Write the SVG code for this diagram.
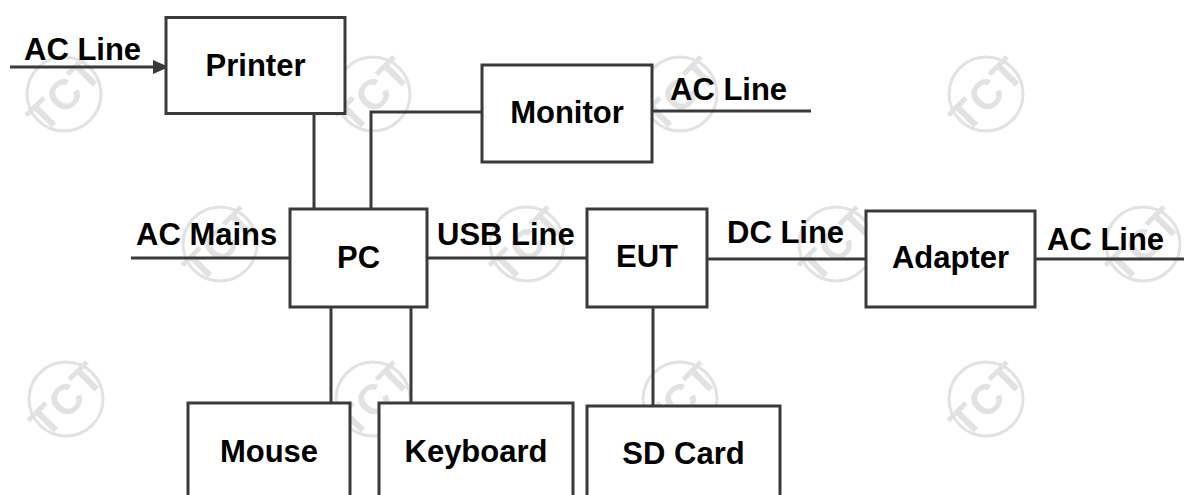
<svg xmlns="http://www.w3.org/2000/svg" width="1184" height="495" viewBox="0 0 1184 495">
  <defs>
    <style>
      .box { fill: #ffffff; stroke: #3a3a3a; stroke-width: 3; }
      .wire { fill: none; stroke: #3a3a3a; stroke-width: 3; }
      .lbl { font-family: "Liberation Sans", Arial, sans-serif; font-weight: bold; font-size: 31px; fill: #000000; }
      .mid { text-anchor: middle; }
    </style>
    <marker id="arrow" viewBox="0 0 16 14" refX="15" refY="7" markerWidth="16" markerHeight="14" markerUnits="userSpaceOnUse" orient="auto">
      <path d="M0,0 L16,7 L0,14 Z" fill="#3a3a3a"/>
    </marker>
    <g id="wmark">
      <circle cx="0" cy="0" r="37" fill="none" stroke="#e2e2e2" stroke-width="3"/>
      <text x="0" y="15" transform="rotate(-45)" style="font-family: 'Liberation Sans', Arial, sans-serif; font-weight: bold; font-size: 42px; letter-spacing: 1px;" fill="#e2e2e2" text-anchor="middle">TCT</text>
    </g>
  </defs>
  <rect width="1184" height="495" fill="#ffffff"/>

  <g id="watermarks">
    <use href="#wmark" x="64" y="94"/>
    <use href="#wmark" x="373" y="94"/>
    <use href="#wmark" x="680" y="94"/>
    <use href="#wmark" x="986" y="94"/>
    <use href="#wmark" x="220" y="244"/>
    <use href="#wmark" x="527" y="244"/>
    <use href="#wmark" x="836" y="244"/>
    <use href="#wmark" x="1143" y="244"/>
    <use href="#wmark" x="66" y="399"/>
    <use href="#wmark" x="373" y="399"/>
    <use href="#wmark" x="680" y="399"/>
    <use href="#wmark" x="986" y="399"/>
  </g>

  <g id="connectors">
    <line class="wire" x1="10" y1="67" x2="168" y2="67" marker-end="url(#arrow)"/>
    <line class="wire" x1="314" y1="113" x2="314" y2="209"/>
    <polyline class="wire" points="371,209 371,112 482,112"/>
    <line class="wire" x1="652" y1="111" x2="811" y2="111"/>
    <line class="wire" x1="131" y1="258" x2="290" y2="258"/>
    <line class="wire" x1="427" y1="258" x2="587" y2="258"/>
    <line class="wire" x1="707" y1="259" x2="866" y2="259"/>
    <line class="wire" x1="1035" y1="259" x2="1184" y2="259"/>
    <line class="wire" x1="331" y1="307" x2="331" y2="403"/>
    <line class="wire" x1="411" y1="307" x2="411" y2="403"/>
    <line class="wire" x1="653" y1="307" x2="653" y2="406"/>
    <text class="lbl" x="24" y="60">AC Line</text>
    <text class="lbl" x="670" y="100">AC Line</text>
    <text class="lbl" x="136" y="245">AC Mains</text>
    <text class="lbl" x="437" y="245">USB Line</text>
    <text class="lbl" x="727" y="243">DC Line</text>
    <text class="lbl" x="1047" y="250">AC Line</text>
  </g>

  <g id="printer">
    <rect class="box" x="166" y="17.5" width="179" height="96"/>
    <text class="lbl mid" x="255.5" y="76">Printer</text>
  </g>
  <g id="monitor">
    <rect class="box" x="482" y="65" width="170" height="97"/>
    <text class="lbl mid" x="567" y="123">Monitor</text>
  </g>
  <g id="pc">
    <rect class="box" x="290" y="209" width="137" height="98"/>
    <text class="lbl mid" x="358.5" y="268">PC</text>
  </g>
  <g id="eut">
    <rect class="box" x="587" y="209" width="120" height="98"/>
    <text class="lbl mid" x="647" y="267">EUT</text>
  </g>
  <g id="adapter">
    <rect class="box" x="866" y="211" width="169" height="96"/>
    <text class="lbl mid" x="950.5" y="268">Adapter</text>
  </g>
  <g id="mouse">
    <rect class="box" x="188" y="403" width="162" height="100"/>
    <text class="lbl mid" x="269" y="462">Mouse</text>
  </g>
  <g id="keyboard">
    <rect class="box" x="379" y="403" width="194" height="100"/>
    <text class="lbl mid" x="476" y="462">Keyboard</text>
  </g>
  <g id="sdcard">
    <rect class="box" x="587" y="406" width="193" height="100"/>
    <text class="lbl mid" x="683.5" y="464">SD Card</text>
  </g>
</svg>
